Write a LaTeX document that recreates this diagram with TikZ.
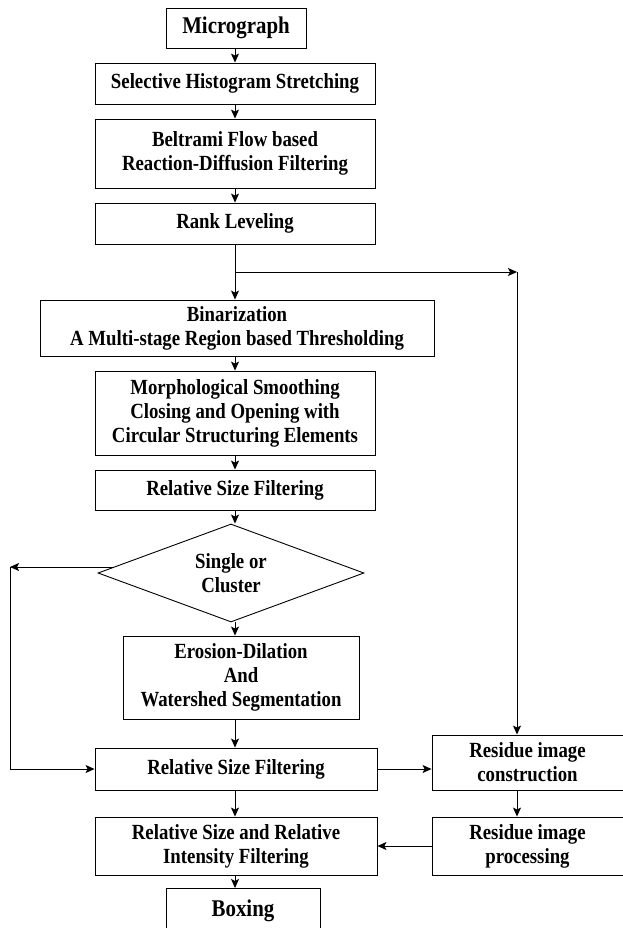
\documentclass[tikz,border=0pt]{standalone}
\usepackage{fontspec}
\setmainfont[FakeStretch=0.87]{Liberation Serif}
\usetikzlibrary{shapes.geometric,arrows.meta,calc}
\begin{document}
\begin{tikzpicture}[x=1pt,y=-1pt,
  box/.style={draw,line width=0.9pt,inner sep=2pt,align=center,font=\bfseries\fontsize{21.6}{24}\selectfont},
  bigbox/.style={box,font=\bfseries\fontsize{24}{28}\selectfont},
  arr/.style={-{Stealth[length=9pt,width=8pt,inset=2pt]},line width=0.9pt},
  ln/.style={line width=0.9pt}]
\useasboundingbox (0,0) rectangle (623,928);
\coordinate (axis) at (235,0);
\node[bigbox,minimum width=140,minimum height=40] (micro) at (236,28) {Micrograph};
\node[box,minimum width=280,minimum height=41] (shs) at (235,83.5) {Selective Histogram Stretching};
\node[box,minimum width=280,minimum height=69] (bel) at (235,153.5) {Beltrami Flow based\\Reaction-Diffusion Filtering};
\node[box,minimum width=280,minimum height=41] (rank) at (235,223.5) {Rank Leveling};
\node[box,minimum width=394,minimum height=56] (bin) at (237,328) {Binarization\\A Multi-stage Region based Thresholding};
\node[box,minimum width=280,minimum height=84] (morph) at (235,413) {Morphological Smoothing\\Closing and Opening with\\Circular Structuring Elements};
\node[box,minimum width=280,minimum height=40] (rsfa) at (235,490) {Relative Size Filtering};
\node[box,diamond,aspect=2.71,minimum width=266,minimum height=98,inner sep=0pt] (dia) at (231,573) {Single or\\Cluster};
\node[box,minimum width=236,minimum height=83] (ero) at (241,677.5) {Erosion-Dilation\\And\\Watershed Segmentation};
\node[box,minimum width=282,minimum height=42] (rsfb) at (236,769) {Relative Size Filtering};
\node[box,minimum width=191,minimum height=55] (rc) at (527.5,762.5) {Residue image\\construction};
\node[box,minimum width=191,minimum height=58] (rp) at (527.5,846) {Residue image\\processing};
\node[box,minimum width=282,minimum height=58] (rsfc) at (236,846) {Relative Size and Relative\\Intensity Filtering};
\node[bigbox,minimum width=154,minimum height=44,anchor=north] (boxing) at (243,888) {Boxing};
\coordinate (j) at (235,272);
\coordinate (jr) at (517,272);
\coordinate (l1) at (10,567);
\coordinate (l2) at (10,769);
\draw[arr] (micro.south -| axis) -- (shs.north -| axis);
\draw[arr] (shs.south -| axis) -- (bel.north -| axis);
\draw[arr] (bel.south -| axis) -- (rank.north -| axis);
\draw[arr] (rank.south -| axis) -- (bin.north -| axis);
\draw[arr] (j) -- (jr);
\draw[arr] (jr) -- (rc.north -| jr);
\draw[arr] (bin.south -| axis) -- (morph.north -| axis);
\draw[arr] (morph.south -| axis) -- (rsfa.north -| axis);
\draw[arr] (rsfa.south -| axis) -- (dia.north -| axis);
\draw[arr] (dia.south -| axis) -- (ero.north -| axis);
\draw[arr] ($(dia.west)+(16,-6)$) -- (l1);
\draw[ln] (l1) -- (l2);
\draw[arr] (l2) -- (rsfb.west);
\draw[arr] (ero.south -| axis) -- (rsfb.north -| axis);
\draw[arr] (rsfb.east) -- (rsfb.east -| rc.west);
\draw[arr] (rc.south -| jr) -- (rp.north -| jr);
\draw[arr] (rp.west) -- (rp.west -| rsfc.east);
\draw[arr] (rsfb.south -| axis) -- (rsfc.north -| axis);
\draw[arr] (rsfc.south -| axis) -- (boxing.north -| axis);
\end{tikzpicture}
\end{document}
